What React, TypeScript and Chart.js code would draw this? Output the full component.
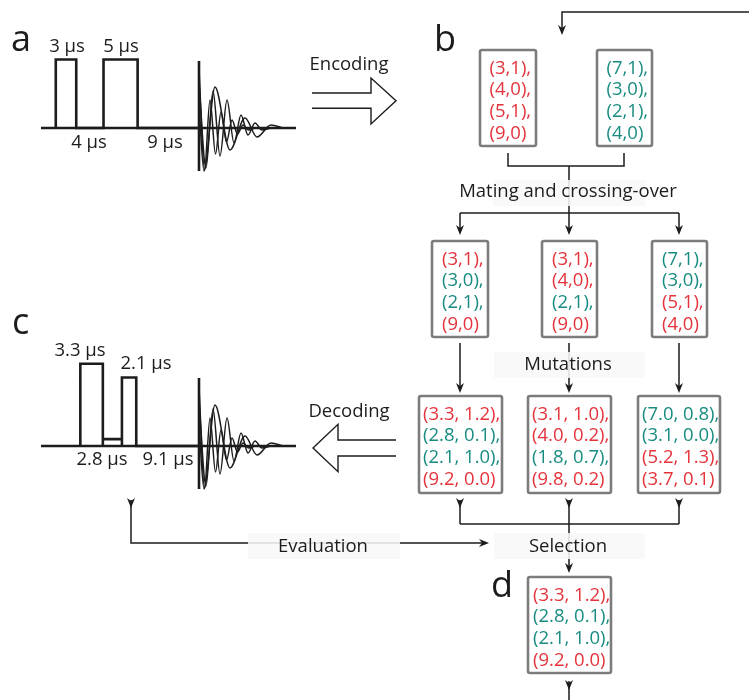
import React, { useEffect, useRef } from "react";
import { Chart, registerables } from "chart.js";

Chart.register(...registerables);

const W = 749;
const H = 700;

// ---------------- data ----------------
// pulse sequences: (duration in μs, amplitude)
const PULSES_A: [number, number][] = [[3, 1], [4, 0], [5, 1], [9, 0]];
const PULSES_C: [number, number][] = [[3.3, 1.2], [2.8, 0.1], [2.1, 1.0], [9.2, 0.0]];
const LABELS_A = ["3 μs", "5 μs", "4 μs", "9 μs"];
const LABELS_C = ["3.3 μs", "2.1 μs", "2.8 μs", "9.1 μs"];

// FID traces, read as extrema (offset, amplitude)
const FID1_T = [0, 5.5, 11, 16.5, 22, 27.5, 33, 38.5, 44, 49.5, 56];
const FID1_V = [59, -42, 28, -26, 16, -14, 8, -6, 3, -2, 0];
const FID2_T = [0, 7, 14, 21, 28, 35, 42, 49, 56, 63, 72];
const FID2_V = [45, -40, 37, -28, 28, -15, 13, -7, 5, -2, 0];
const FID3_T = [0, 5, 16, 31, 46, 58, 72, 84];
const FID3_V = [22, -43, 41, -22, 10, -9, 3, 0];

// chromosomes (r = first parent, t = second parent)
const PARENTS: [number, number][][] = [
  [[3, 1], [4, 0], [5, 1], [9, 0]],
  [[7, 1], [3, 0], [2, 1], [4, 0]],
];
const PARENT_ORIGIN = [["r", "r", "r", "r"], ["t", "t", "t", "t"]];
const CHILDREN: [number, number][][] = [
  [[3, 1], [3, 0], [2, 1], [9, 0]],
  [[3, 1], [4, 0], [2, 1], [9, 0]],
  [[7, 1], [3, 0], [5, 1], [4, 0]],
];
const CHILD_ORIGIN = [["r", "t", "t", "r"], ["r", "r", "t", "r"], ["t", "t", "r", "r"]];
const MUTANTS: [number, number][][] = [
  [[3.3, 1.2], [2.8, 0.1], [2.1, 1.0], [9.2, 0.0]],
  [[3.1, 1.0], [4.0, 0.2], [1.8, 0.7], [9.8, 0.2]],
  [[7.0, 0.8], [3.1, 0.0], [5.2, 1.3], [3.7, 0.1]],
];
const MUTANT_ORIGIN = [["r", "t", "t", "r"], ["r", "r", "t", "r"], ["t", "t", "r", "r"]];
const SELECTED: [number, number][] = [[3.3, 1.2], [2.8, 0.1], [2.1, 1.0], [9.2, 0.0]];
const SELECTED_ORIGIN = ["r", "t", "t", "r"];

const STEPS = ["Encoding", "Decoding", "Mating and crossing-over", "Mutations", "Evaluation", "Selection"];
const PANELS = ["a", "b", "c", "d"];

// ---------------- layout / style ----------------
const RED = "#e5333b";
const TEAL = "#188c80";
const INK = "#1c1c1c";
const BOX_GRAY = "#7c7c7c";
const FONT = '"Open Sans", "Noto Sans", sans-serif';

const PX_PER_US = 6.82;
const AMP_PX = 68.5;
const PANEL_A = { base: 128, fidX: 199, x0: 41, x1: 296, fidTop: 61, fidBot: 171 };
const PANEL_C = { base: 446, fidX: 199, x0: 41, x1: 296, fidTop: 378, fidBot: 489 };

const LBL_POS_A = [[67, 52], [121, 52], [89, 148], [165, 148]];
const LBL_POS_C = [[80, 356], [146, 369], [102, 465], [168, 465]];
const STEP_POS = [[349, 70], [349, 417], [568, 197], [568, 370], [323, 552], [568, 552]];
const STEP_BG = [null, null, [493, 180, 645, 206], [494, 352, 645, 378], [248, 533, 400, 559], [494, 533, 645, 559]];
const PANEL_POS = [[11, 51], [434, 51], [12, 334], [491, 597]];

const ROW1_BOX = [[480, 50, 536, 146], [597, 50, 652, 146]];
const ROW2_BOX = [[432, 241, 488, 337], [542, 241, 597, 337], [652, 241, 707, 337]];
const ROW3_BOX = [[419, 396, 502, 493], [528, 396, 611, 493], [638, 396, 720, 493]];
const D_BOX = [528, 577, 611, 673];

type P = { x: number; y: number };
const pts = (arr: number[][]): P[] => arr.map(([x, y]) => ({ x, y }));

const CONNECTORS: number[][][] = [
  [[508, 153], [508, 166], [624, 166], [624, 153]],
  [[569, 166], [569, 228]],
  [[460, 213], [679, 213]],
  [[460, 213], [460, 228]],
  [[679, 213], [679, 228]],
  [[749, 12], [562, 12], [562, 28]],
  [[460, 343], [460, 386]],
  [[569, 343], [569, 386]],
  [[679, 343], [679, 386]],
  [[460, 500], [460, 524]],
  [[569, 500], [569, 524]],
  [[679, 500], [679, 524]],
  [[460, 524], [679, 524]],
  [[569, 524], [569, 566]],
  [[131, 500], [131, 543], [482, 543]],
  [[569, 681], [569, 700]],
];
const HOLLOW_ARROWS: number[][][] = [
  [[312, 93], [371, 93], [371, 78], [396, 100.7], [371, 124], [371, 108.3], [312, 108.3]],
  [[396, 440], [338, 440], [338, 424.3], [313, 448], [338, 471.7], [338, 456], [396, 456]],
];
const DOWN_TIPS = [[460, 235], [569, 235], [679, 235], [562, 35], [460, 393], [569, 393], [679, 393], [569, 573],
  [460, 508], [569, 508], [679, 508], [131, 508], [569, 690]];
const RIGHT_TIPS = [[489, 543]];

function pulsePath(seq: [number, number][], panel: typeof PANEL_A): P[] {
  const total = seq.reduce((s, [d]) => s + d, 0);
  let x = panel.fidX - total * PX_PER_US;
  const out: P[] = [{ x, y: panel.base }];
  for (const [d, a] of seq) {
    const top = panel.base - a * AMP_PX;
    const nx = x + d * PX_PER_US;
    out.push({ x, y: top }, { x: nx, y: top }, { x: nx, y: panel.base });
    x = nx;
  }
  return out;
}

function fidPath(T: number[], V: number[], panel: typeof PANEL_A): P[] {
  return T.map((t, i) => ({ x: panel.fidX + t, y: panel.base - V[i] }));
}

const fmtInt = (g: [number, number]) => `(${g[0]},${g[1]})`;
const fmtDec = (g: [number, number]) => `(${g[0].toFixed(1)}, ${g[1].toFixed(1)})`;

function lineDs(data: P[], width: number, color = INK, extra: any = {}) {
  return {
    data,
    showLine: true,
    borderColor: color,
    borderWidth: width,
    pointRadius: 0,
    fill: false,
    clip: false,
    ...extra,
  };
}

const diagramPlugin = {
  id: "diagram",
  afterDatasetsDraw(chart: any) {
    const ctx: CanvasRenderingContext2D = chart.ctx;
    const X = (v: number) => chart.scales.x.getPixelForValue(v);
    const Y = (v: number) => chart.scales.y.getPixelForValue(v);
    ctx.save();

    // label backgrounds (over the lines, semi-opaque)
    STEP_BG.forEach((b) => {
      if (!b) return;
      ctx.fillStyle = "rgba(248,248,248,0.88)";
      ctx.fillRect(X(b[0]), Y(b[1]), X(b[2]) - X(b[0]), Y(b[3]) - Y(b[1]));
    });

    // arrowheads
    ctx.fillStyle = INK;
    const head = (tx: number, ty: number, dir: "down" | "right") => {
      const x = X(tx), y = Y(ty);
      ctx.beginPath();
      if (dir === "down") {
        ctx.moveTo(x, y);
        ctx.lineTo(x - 4, y - 10);
        ctx.lineTo(x, y - 7);
        ctx.lineTo(x + 4, y - 10);
      } else {
        ctx.moveTo(x, y);
        ctx.lineTo(x - 10, y - 4);
        ctx.lineTo(x - 7, y);
        ctx.lineTo(x - 10, y + 4);
      }
      ctx.closePath();
      ctx.fill();
    };
    DOWN_TIPS.forEach(([x, y]) => head(x, y, "down"));
    RIGHT_TIPS.forEach(([x, y]) => head(x, y, "right"));

    // boxes
    const box = (b: number[], lines: string[], origin: string[], pad: number) => {
      const x0 = X(b[0]), y0 = Y(b[1]), x1 = X(b[2]), y1 = Y(b[3]);
      ctx.beginPath();
      (ctx as any).roundRect ? (ctx as any).roundRect(x0, y0, x1 - x0, y1 - y0, 2) : ctx.rect(x0, y0, x1 - x0, y1 - y0);
      ctx.fillStyle = "#ffffff";
      ctx.fill();
      ctx.strokeStyle = BOX_GRAY;
      ctx.lineWidth = 2.6;
      ctx.stroke();
      ctx.font = `18.5px ${FONT}`;
      ctx.textAlign = "left";
      ctx.textBaseline = "alphabetic";
      lines.forEach((s, i) => {
        ctx.fillStyle = origin[i] === "r" ? RED : TEAL;
        ctx.fillText(s + (i < lines.length - 1 ? "," : ""), x0 + pad, Y(b[1] + 23.5 + i * 21.7));
      });
    };
    PARENTS.forEach((c, i) => box(ROW1_BOX[i], c.map(fmtInt), PARENT_ORIGIN[i], 9.5));
    CHILDREN.forEach((c, i) => box(ROW2_BOX[i], c.map(fmtInt), CHILD_ORIGIN[i], 10));
    MUTANTS.forEach((c, i) => box(ROW3_BOX[i], c.map(fmtDec), MUTANT_ORIGIN[i], 4));
    box(D_BOX, SELECTED.map(fmtDec), SELECTED_ORIGIN, 5);

    // texts
    ctx.fillStyle = INK;
    ctx.textAlign = "center";
    ctx.textBaseline = "alphabetic";
    ctx.font = `18.5px ${FONT}`;
    LABELS_A.forEach((s, i) => ctx.fillText(s, X(LBL_POS_A[i][0]), Y(LBL_POS_A[i][1])));
    LABELS_C.forEach((s, i) => ctx.fillText(s, X(LBL_POS_C[i][0]), Y(LBL_POS_C[i][1])));
    STEPS.forEach((s, i) => ctx.fillText(s, X(STEP_POS[i][0]), Y(STEP_POS[i][1])));
    ctx.textAlign = "left";
    ctx.font = `36px ${FONT}`;
    PANELS.forEach((s, i) => ctx.fillText(s, X(PANEL_POS[i][0]), Y(PANEL_POS[i][1])));

    ctx.restore();
  },
};

export default function App() {
  const ref = useRef<HTMLCanvasElement | null>(null);

  useEffect(() => {
    if (!ref.current) return;
    const datasets: any[] = [];
    for (const panel of [PANEL_A, PANEL_C]) {
      datasets.push(lineDs(pts([[panel.x0, panel.base], [panel.x1, panel.base]]), 2.6));
      datasets.push(lineDs(pts([[panel.fidX, panel.fidTop], [panel.fidX, panel.fidBot]]), 2.6));
      const mono = { cubicInterpolationMode: "monotone" };
      datasets.push(lineDs(fidPath(FID1_T, FID1_V, panel), 1.5, INK, mono));
      datasets.push(lineDs(fidPath(FID2_T, FID2_V, panel), 1.5, INK, mono));
      datasets.push(lineDs(fidPath(FID3_T, FID3_V, panel), 1.5, INK, mono));
    }
    datasets.push(lineDs(pulsePath(PULSES_A, PANEL_A), 2.6));
    datasets.push(lineDs(pulsePath(PULSES_C, PANEL_C), 2.6));
    CONNECTORS.forEach((c) => datasets.push(lineDs(pts(c), 1.5)));
    HOLLOW_ARROWS.forEach((c) => datasets.push(lineDs(pts(c), 1.4)));

    const chart = new Chart(ref.current, {
      type: "scatter",
      data: { datasets },
      options: {
        responsive: false,
        animation: false,
        events: [],
        layout: { padding: 0 },
        plugins: { legend: { display: false }, tooltip: { enabled: false } },
        scales: {
          x: { type: "linear", min: 0, max: W, display: false },
          y: { type: "linear", min: 0, max: H, reverse: true, display: false },
        },
      },
      plugins: [diagramPlugin],
    } as any);
    return () => chart.destroy();
  }, []);

  return (
    <div style={{ position: "absolute", left: 0, top: 0, width: W, height: H, background: "#fff" }}>
      <canvas ref={ref} width={W} height={H} style={{ display: "block", width: W, height: H }} />
    </div>
  );
}
